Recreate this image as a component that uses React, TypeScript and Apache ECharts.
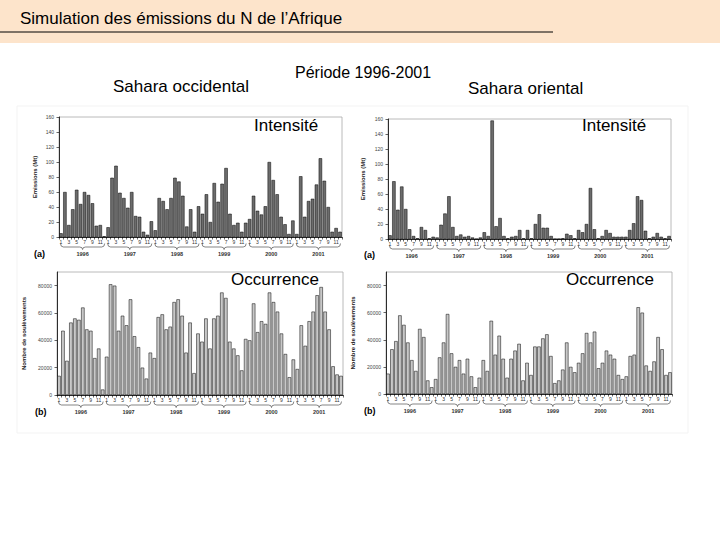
import React, { useEffect, useRef } from "react";
import * as echarts from "echarts";

const years = ["1996", "1997", "1998", "1999", "2000", "2001"];
const monthTicks = ["1", "2", "3", "4", "5", "6", "7", "8", "9", "10", "11", "12"];

const westIntensity = [
  5, 60, 16, 37, 63, 44, 60, 56, 45, 15, 16, 1,
  13, 79, 95, 59, 52, 39, 60, 28, 27, 7, 3, 21,
  9, 52, 48, 37, 52, 79, 74, 55, 14, 37, 7, 41,
  31, 57, 20, 72, 47, 71, 92, 31, 16, 19, 7, 19,
  24, 55, 35, 30, 41, 100, 76, 57, 27, 17, 4, 22,
  4, 81, 27, 48, 51, 70, 105, 75, 40, 7, 12, 7,
];
const eastIntensity = [
  5, 77, 39, 70, 40, 13, 4, 1, 16, 12, 1, 3,
  2, 19, 34, 57, 16, 4, 6, 3, 4, 2, 0, 2,
  9, 4, 158, 17, 28, 4, 1, 3, 4, 12, 1, 12,
  1, 20, 33, 15, 15, 4, 0, 0, 1, 7, 5, 1,
  12, 9, 20, 68, 13, 1, 4, 12, 8, 3, 3, 3,
  3, 12, 21, 57, 52, 11, 1, 3, 8, 3, 1, 4,
];
const westOccurrence = [
  14000, 47000, 25000, 53000, 56000, 55000, 64000, 48000, 47000, 27000, 34000, 4000,
  28000, 81000, 80000, 47000, 58000, 51000, 70000, 43000, 35000, 20000, 12000, 31000,
  27000, 57000, 59000, 48000, 50000, 68000, 70000, 58000, 31000, 53000, 16000, 45000,
  39000, 56000, 34000, 56000, 58000, 75000, 71000, 39000, 34000, 29000, 18000, 41000,
  40000, 67000, 46000, 54000, 52000, 75000, 68000, 61000, 45000, 30000, 13000, 26000,
  19000, 51000, 36000, 54000, 61000, 73000, 79000, 61000, 48000, 21000, 15000, 14000,
];
const eastOccurrence = [
  15000, 33000, 39000, 58000, 51000, 38000, 25000, 17000, 48000, 42000, 10000, 5000,
  11000, 27000, 38000, 59000, 30000, 20000, 25000, 15000, 26000, 13000, 5000, 12000,
  25000, 17000, 54000, 29000, 43000, 26000, 12000, 26000, 32000, 37000, 10000, 23000,
  14000, 35000, 35000, 41000, 44000, 28000, 8000, 10000, 18000, 38000, 20000, 16000,
  23000, 30000, 45000, 38000, 46000, 19000, 23000, 32000, 29000, 26000, 14000, 11000,
  13000, 28000, 29000, 64000, 60000, 21000, 17000, 24000, 42000, 33000, 14000, 16000,
];

const FONT = "Liberation Sans, Arial, sans-serif";

export default function App() {
  const ref = useRef<HTMLDivElement>(null);
  useEffect(() => {
    const chart = echarts.init(ref.current!, null, { renderer: "svg" });
    const categories = years.flatMap((y) => monthTicks.map((m) => m));

    const panels = [
      { grid: { left: 59, top: 117, width: 283, height: 120 }, data: westIntensity, kind: "int", yName: "Emissions (Mt)", nameGap: 21, title: "Intensité", tx: 254, ty: 125, tag: "(a)", tagX: 34, tagY: 254 },
      { grid: { left: 388, top: 119, width: 283, height: 120 }, data: eastIntensity, kind: "int", yName: "Emissions (Mt)", nameGap: 22, title: "Intensité", tx: 582, ty: 125, tag: "(a)", tagX: 364, tagY: 255 },
      { grid: { left: 57, top: 272, width: 286, height: 123 }, data: westOccurrence, kind: "occ", yName: "Nombre de soulèvements", nameGap: 30, title: "Occurrence", tx: 231, ty: 279, tag: "(b)", tagX: 35, tagY: 412 },
      { grid: { left: 386, top: 272, width: 286, height: 122 }, data: eastOccurrence, kind: "occ", yName: "Nombre de soulèvements", nameGap: 30, title: "Occurrence", tx: 566, ty: 279, tag: "(b)", tagX: 364, tagY: 411 },
    ];

    const grid: any[] = [];
    const xAxis: any[] = [];
    const yAxis: any[] = [];
    const series: any[] = [];
    const graphic: any[] = [
      { type: "rect", shape: { x: 0, y: 0, width: 720, height: 43 }, style: { fill: "#fde4cb" }, z: 0 },
      { type: "line", shape: { x1: 0, y1: 32, x2: 553, y2: 32 }, style: { stroke: "#000", lineWidth: 1 } },
      { type: "text", x: 20, y: 18, style: { text: "Simulation des émissions du N de l’Afrique", font: `17px ${FONT}`, fill: "#000", verticalAlign: "middle" } },
      { type: "rect", shape: { x: 17, y: 106, width: 671, height: 327 }, style: { fill: "none", stroke: "#f3f3f3", lineWidth: 1 } },
      { type: "text", x: 295, y: 72, style: { text: "Période 1996-2001", font: `16px ${FONT}`, fill: "#000", verticalAlign: "middle" } },
      { type: "text", x: 113, y: 86, style: { text: "Sahara occidental", font: `17px ${FONT}`, fill: "#000", verticalAlign: "middle" } },
      { type: "text", x: 468, y: 88, style: { text: "Sahara oriental", font: `17px ${FONT}`, fill: "#000", verticalAlign: "middle" } },
    ];

    panels.forEach((p, i) => {
      const isInt = p.kind === "int";
      grid.push({ ...p.grid, show: true, borderColor: "#a8a8a8", borderWidth: 0.8, backgroundColor: "transparent" });
      const monthAxisIndex = xAxis.length;
      xAxis.push({
        type: "category",
        gridIndex: i,
        data: categories,
        position: "bottom",
        axisLine: { show: true, lineStyle: { color: "#000", width: 0.8 } },
        axisTick: { show: true, interval: 0, length: 2.5, lineStyle: { color: "#000", width: 0.6 } },
        axisLabel: { interval: 1, fontSize: 5, margin: 2.5, color: "#333", fontFamily: FONT, hideOverlap: false },
      });
      const yearAxisIndex = xAxis.length;
      xAxis.push({
        type: "category",
        gridIndex: i,
        data: years,
        position: "bottom",
        axisLine: { show: false },
        axisTick: { show: false },
        axisLabel: { fontSize: 5.5, margin: 14, color: "#333", fontWeight: "bold", fontFamily: FONT },
      });
      yAxis.push({
        type: "value",
        gridIndex: i,
        min: 0,
        max: isInt ? 160 : 90000,
        interval: isInt ? 20 : 20000,
        name: p.yName,
        nameLocation: "middle",
        nameRotate: 90,
        nameGap: p.nameGap,
        nameTextStyle: { fontSize: 6, fontWeight: "bold", color: "#222", fontFamily: FONT },
        splitLine: { show: false },
        axisLine: { show: true, lineStyle: { color: "#000", width: 0.8 } },
        axisTick: { show: true, length: 2.5, lineStyle: { color: "#000", width: 0.6 } },
        axisLabel: {
          fontSize: 5,
          margin: 5,
          color: "#444",
          fontFamily: FONT,
          showMaxLabel: isInt,
          formatter: (v: number) => String(v),
        },
      });
      series.push({
        type: "bar",
        xAxisIndex: monthAxisIndex,
        yAxisIndex: i,
        data: p.data,
        barCategoryGap: "14%",
        itemStyle: { color: isInt ? "#6c6c6c" : "#c8c8c8", borderColor: "#000", borderWidth: 0.5 },
        silent: true,
      });
      series.push({
        type: "custom",
        xAxisIndex: yearAxisIndex,
        yAxisIndex: i,
        data: years.map((y, k) => [k, 0]),
        encode: { x: 0, y: 1 },
        clip: false,
        silent: true,
        z: 5,
        renderItem: (params: any, api: any) => {
          const c = api.coord([api.value(0), 0]);
          const w = api.size([1, 0])[0];
          const cx = c[0];
          const x0 = cx - w / 2 + 1.5;
          const x1 = cx + w / 2 - 1.5;
          const y0 = c[1] + 6.5;
          const y1 = y0 + 3.5;
          const y2 = y1 + 2.5;
          const r = 3;
          const d = `M${x0},${y0} Q${x0},${y1} ${x0 + r},${y1} L${cx - r},${y1} Q${cx},${y1} ${cx},${y2} Q${cx},${y1} ${cx + r},${y1} L${x1 - r},${y1} Q${x1},${y1} ${x1},${y0}`;
          return { type: "path", shape: { pathData: d }, style: { stroke: "#333", fill: null, lineWidth: 0.6 } };
        },
      });
      graphic.push({ type: "text", x: p.tx, y: p.ty, z: 10, style: { text: p.title, font: `17px ${FONT}`, fill: "#000", verticalAlign: "middle" } });
      graphic.push({ type: "text", x: p.tagX, y: p.tagY, z: 10, style: { text: p.tag, font: `bold 9px ${FONT}`, fill: "#000", verticalAlign: "middle" } });
    });

    chart.setOption({
      animation: false,
      backgroundColor: "#ffffff",
      textStyle: { fontFamily: FONT },
      grid,
      xAxis,
      yAxis,
      series,
      graphic,
    });
    return () => chart.dispose();
  }, []);
  return <div ref={ref} style={{ position: "fixed", left: 0, top: 0, width: 720, height: 540, background: "#fff" }} />;
}
